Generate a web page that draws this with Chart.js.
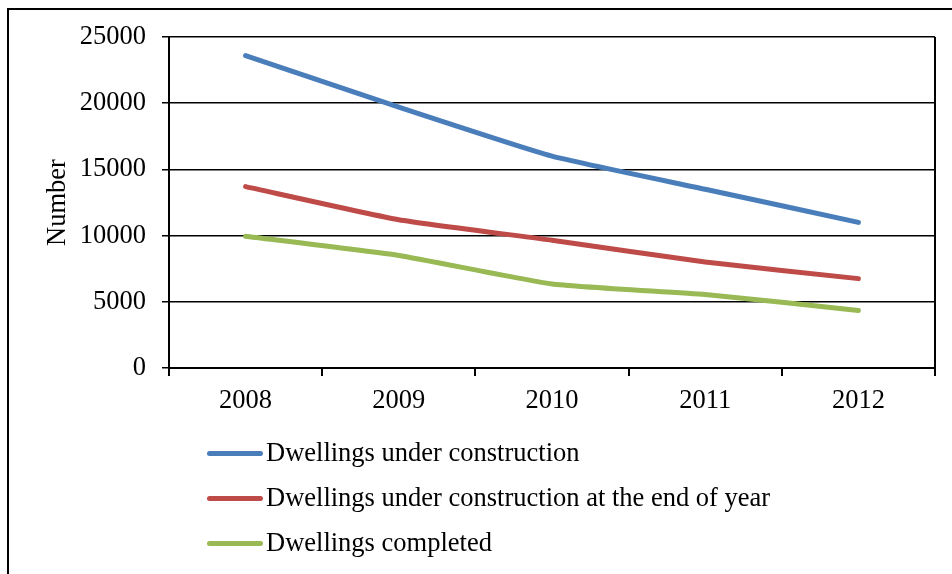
<!DOCTYPE html>
<html>
<head>
<meta charset="utf-8">
<script src="https://cdn.jsdelivr.net/npm/chart.js@4/dist/chart.umd.min.js"></script>
<style>
  html, body { margin: 0; padding: 0; background: #fff; overflow: hidden; }
  #wrap { position: relative; width: 952px; height: 574px; }
  #frame { position: absolute; left: 7px; top: 8px; width: 1000px; height: 700px; border: 2px solid #000; box-sizing: border-box; }
  #legend { position: absolute; left: 207px; top: 430px; font-family: "Liberation Serif", "Times New Roman", serif; font-size: 26.5px; color: #000; }
  #legend div { height: 45px; line-height: 45px; white-space: nowrap; }
  #legend span.swatch { display: inline-block; width: 56px; height: 5px; border-radius: 2.5px; vertical-align: middle; margin-right: 3px; position: relative; top: -1px; }
</style>
</head>
<body>
<div id="wrap">
  <canvas id="lineChart" width="952" height="574"></canvas>
  <div id="frame"></div>
  <div id="legend"></div>
</div>
<script>
// data
const years = ['2008', '2009', '2010', '2011', '2012'];
const underConstruction = [23600, 19700, 16000, 13500, 11000];
const underConstructionEnd = [13700, 11200, 9650, 8000, 6750];
const completed = [9950, 8500, 6350, 5550, 4350];
const seriesNames = ['Dwellings under construction', 'Dwellings under construction at the end of year', 'Dwellings completed'];
const seriesColors = ['#4a7ebb', '#be4b48', '#98b954'];

const serif = '"Liberation Serif", "Times New Roman", serif';

// right edge of the plot box
const plotBorder = {
  id: 'plotBorder',
  afterDraw(chart) {
    const a = chart.chartArea, c = chart.ctx;
    c.save();
    c.strokeStyle = '#000';
    c.lineWidth = 2;
    c.beginPath();
    c.moveTo(a.right, a.top);
    c.lineTo(a.right, a.bottom);
    c.stroke();
    c.restore();
  }
};

let ctx = document.getElementById('lineChart').getContext('2d');
let lineChart = new Chart(ctx, {
  type: 'line',
  data: {
    labels: years,
    datasets: [underConstruction, underConstructionEnd, completed].map((d, i) => ({
      label: seriesNames[i],
      data: d,
      borderColor: seriesColors[i],
      backgroundColor: seriesColors[i],
      borderWidth: 5,
      borderCapStyle: 'round',
      borderJoinStyle: 'round',
      pointRadius: 0,
      tension: 0.15,
      fill: false
    }))
  },
  options: {
    responsive: false,
    animation: false,
    layout: { padding: { top: 37, right: 17, left: 0, bottom: 0 } },
    plugins: {
      legend: { display: false },
      tooltip: { enabled: false }
    },
    scales: {
      x: {
        offset: true,
        afterFit(scale) { scale.height = 206; },
        grid: { offset: true, drawOnChartArea: false, drawTicks: true, tickLength: 8, color: '#000', lineWidth: 2 },
        border: { display: true, color: '#000', width: 2 },
        ticks: { color: '#000', padding: 9, font: { family: serif, size: 26.5 } }
      },
      y: {
        min: 0,
        max: 25000,
        afterFit(scale) { scale.width = 169; },
        ticks: {
          stepSize: 5000,
          color: '#000',
          padding: 16,
          font: { family: serif, size: 26.5 },
          callback: v => String(v)
        },
        grid: { color: '#000', lineWidth: 1.5, tickLength: 7 },
        border: { display: true, color: '#000', width: 2 },
        title: {
          display: true,
          text: 'Number',
          color: '#000',
          padding: { top: 42, bottom: 0 },
          font: { family: serif, size: 26.5 }
        }
      }
    }
  },
  plugins: [plotBorder]
});

// vertical legend under the plot, like the original
const legendBox = document.getElementById('legend');
lineChart.data.datasets.forEach(ds => {
  const row = document.createElement('div');
  const sw = document.createElement('span');
  sw.className = 'swatch';
  sw.style.background = ds.borderColor;
  row.appendChild(sw);
  row.appendChild(document.createTextNode(ds.label));
  legendBox.appendChild(row);
});
</script>
</body>
</html>
